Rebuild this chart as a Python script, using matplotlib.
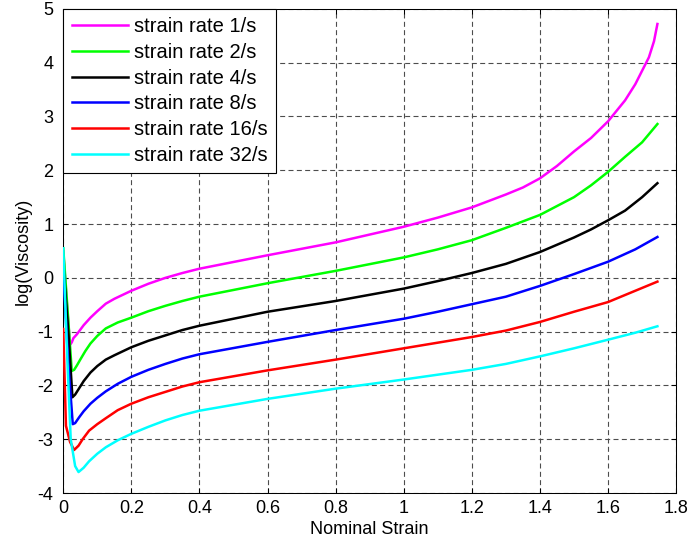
import matplotlib
matplotlib.use("Agg")
import matplotlib.pyplot as plt

plt.rcParams['font.family'] = ['Liberation Sans', 'DejaVu Sans']

labels = ["strain rate 1/s", "strain rate 2/s", "strain rate 4/s",
          "strain rate 8/s", "strain rate 16/s", "strain rate 32/s"]
colors = ["#FF00FF", "#00FF00", "#000000", "#0000FF", "#FF0000", "#00FFFF"]

x_1 = [0, 0.012, 0.02, 0.025, 0.03, 0.04, 0.06, 0.08, 0.1, 0.125, 0.15, 0.2, 0.25, 0.3, 0.35, 0.4,
       0.6, 0.8, 1.0, 1.1, 1.2, 1.3, 1.35, 1.4, 1.45, 1.5, 1.55, 1.6, 1.65, 1.68, 1.7, 1.72, 1.735, 1.745]
y_1 = [0.5, -0.6, -1.24, -1.2, -1.12, -1.05, -0.88, -0.74, -0.62, -0.48, -0.39, -0.24, -0.11, 0.0, 0.09, 0.17,
       0.42, 0.66, 0.95, 1.12, 1.31, 1.55, 1.68, 1.85, 2.08, 2.35, 2.6, 2.91, 3.3, 3.6, 3.85, 4.1, 4.4, 4.72]

x_2 = [0, 0.015, 0.025, 0.032, 0.04, 0.05, 0.065, 0.08, 0.1, 0.125, 0.16, 0.2, 0.25, 0.3, 0.35, 0.4,
       0.6, 0.8, 1.0, 1.1, 1.2, 1.3, 1.4, 1.5, 1.55, 1.6, 1.65, 1.7, 1.745]
y_2 = [0.55, -0.8, -1.73, -1.71, -1.63, -1.52, -1.36, -1.22, -1.08, -0.94, -0.83, -0.74, -0.62, -0.52, -0.43, -0.35,
       -0.10, 0.13, 0.38, 0.53, 0.70, 0.93, 1.17, 1.50, 1.72, 1.97, 2.25, 2.52, 2.86]

x_4 = [0, 0.015, 0.027, 0.035, 0.045, 0.06, 0.08, 0.1, 0.125, 0.15, 0.2, 0.25, 0.3, 0.35, 0.4,
       0.6, 0.8, 1.0, 1.1, 1.2, 1.3, 1.4, 1.5, 1.55, 1.6, 1.65, 1.7, 1.745]
y_4 = [0.3, -1.0, -2.22, -2.17, -2.07, -1.92, -1.76, -1.64, -1.52, -1.44, -1.29, -1.17, -1.07, -0.97, -0.89,
       -0.63, -0.43, -0.20, -0.06, 0.09, 0.26, 0.48, 0.75, 0.90, 1.07, 1.25, 1.50, 1.76]

x_8 = [0, 0.015, 0.028, 0.035, 0.047, 0.06, 0.08, 0.1, 0.125, 0.16, 0.2, 0.25, 0.3, 0.35, 0.4,
       0.6, 0.8, 1.0, 1.1, 1.2, 1.3, 1.4, 1.5, 1.6, 1.68, 1.745]
y_8 = [0.1, -1.6, -2.72, -2.70, -2.59, -2.48, -2.34, -2.23, -2.11, -1.97, -1.84, -1.71, -1.60, -1.50, -1.42,
       -1.19, -0.97, -0.76, -0.63, -0.49, -0.35, -0.15, 0.07, 0.30, 0.53, 0.76]

x_16 = [0, 0.008, 0.02, 0.032, 0.045, 0.057, 0.076, 0.1, 0.125, 0.16, 0.2, 0.25, 0.3, 0.35, 0.4,
        0.6, 0.8, 1.0, 1.2, 1.3, 1.4, 1.5, 1.6, 1.68, 1.745]
y_16 = [-0.95, -2.75, -3.05, -3.20, -3.12, -3.0, -2.84, -2.72, -2.61, -2.46, -2.34, -2.22, -2.12, -2.02, -1.94,
        -1.72, -1.52, -1.31, -1.10, -0.98, -0.82, -0.63, -0.45, -0.24, -0.07]

x_32 = [0, 0.012, 0.022, 0.035, 0.045, 0.06, 0.076, 0.1, 0.125, 0.16, 0.2, 0.25, 0.3, 0.35, 0.4,
        0.6, 0.8, 1.0, 1.2, 1.3, 1.4, 1.5, 1.6, 1.68, 1.745]
y_32 = [0.55, -1.5, -3.0, -3.5, -3.61, -3.53, -3.41, -3.27, -3.15, -3.02, -2.90, -2.77, -2.65, -2.55, -2.47,
        -2.25, -2.06, -1.89, -1.71, -1.60, -1.46, -1.31, -1.15, -1.02, -0.90]

xs = [x_1, x_2, x_4, x_8, x_16, x_32]
ys = [y_1, y_2, y_4, y_8, y_16, y_32]

xticks = [0, 0.2, 0.4, 0.6, 0.8, 1, 1.2, 1.4, 1.6, 1.8]
xticklabels = ["0", "0.2", "0.4", "0.6", "0.8", "1", "1.2", "1.4", "1.6", "1.8"]
yticks = [-4, -3, -2, -1, 0, 1, 2, 3, 4, 5]
yticklabels = ["-4", "-3", "-2", "-1", "0", "1", "2", "3", "4", "5"]

fig = plt.figure(figsize=(6.91, 5.47), dpi=100)
ax = fig.add_axes([0.0915, 0.0987, 0.887, 0.885])

for x, y, c, lab in zip(xs, ys, colors, labels):
    ax.plot(x, y, color=c, lw=1.8, label=lab, zorder=3)

ax.set_xlim(0, 1.8)
ax.set_ylim(-4, 5)
ax.set_xticks(xticks)
ax.set_xticklabels(xticklabels)
ax.set_yticks(yticks)
ax.set_yticklabels(yticklabels)
ax.grid(True, color='0.3', lw=0.8, linestyle=(0, (4.5, 3.0)))
ax.tick_params(direction='in', length=3.6, width=0.75, top=True, right=True,
               labelsize=13, colors='black')
ax.tick_params(axis='x', pad=5)
ax.tick_params(axis='y', pad=7)
for s in ax.spines.values():
    s.set_linewidth(0.75)
    s.set_color('black')

ax.set_xlabel("Nominal Strain", fontsize=13, labelpad=3)
ax.set_ylabel("log(Viscosity)", fontsize=13, labelpad=4)

leg = ax.legend(loc='upper left', fontsize=14.5, frameon=True, fancybox=False,
                edgecolor='black', framealpha=1, borderaxespad=0,
                handlelength=2.8, handletextpad=0.3, labelspacing=0.33,
                borderpad=0.42)
leg.get_frame().set_linewidth(0.8)

fig.savefig("out.png", dpi=100)
